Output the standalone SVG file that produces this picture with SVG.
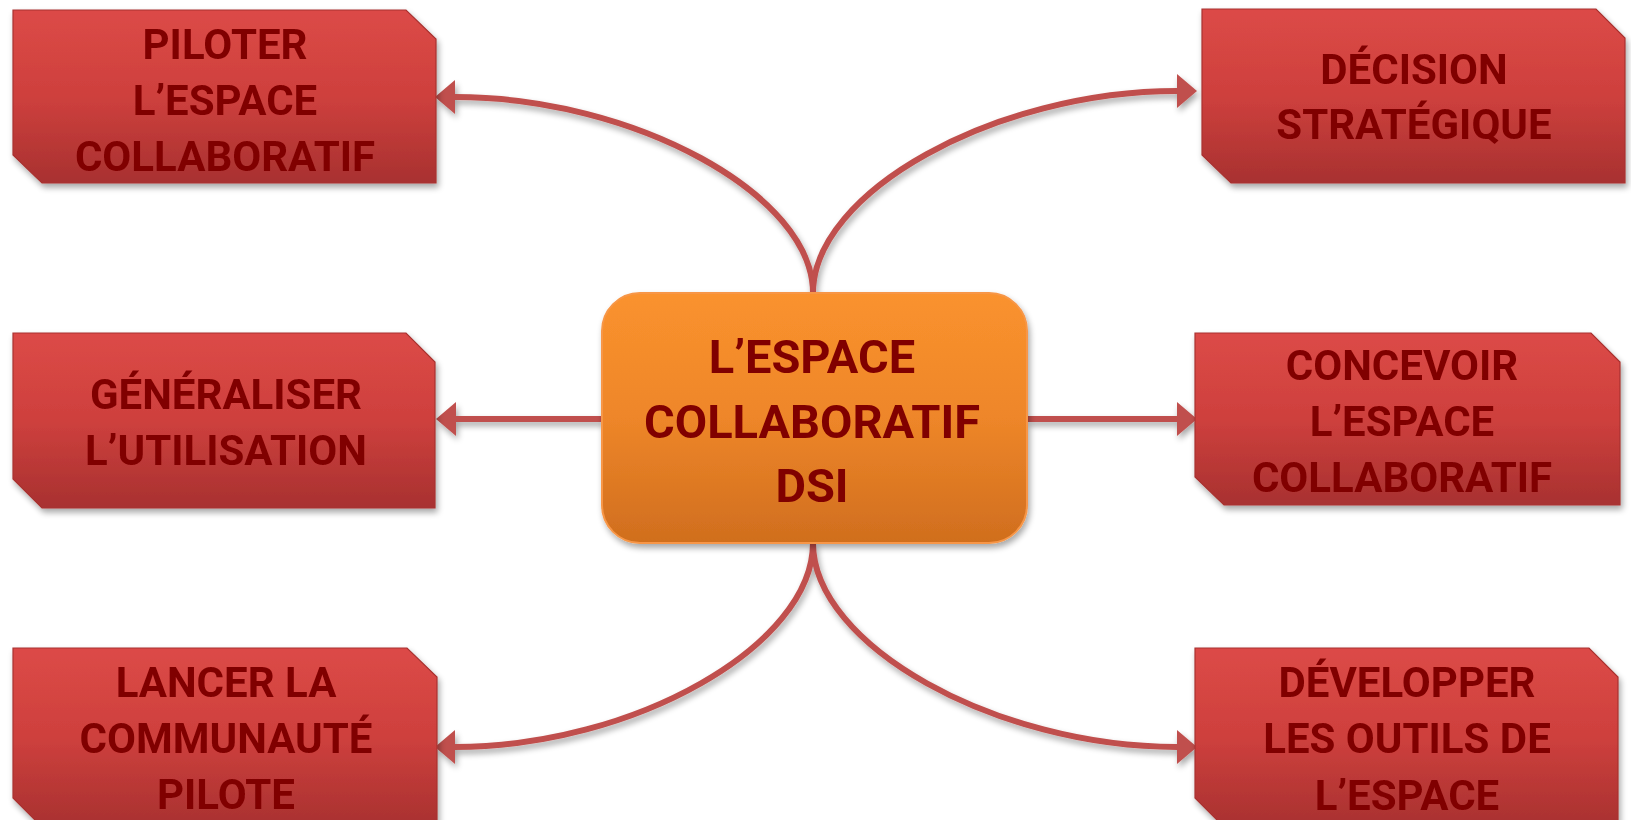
<svg xmlns="http://www.w3.org/2000/svg" width="1631" height="820" viewBox="0 0 1631 820">
<style>
.box{fill:url(#redg);stroke:#A83230;stroke-width:1.2;}
.t{font-family:Roboto,"Liberation Sans",Arial,sans-serif;font-weight:bold;fill:#800000;text-anchor:middle;font-size:42px;}
.tc{font-size:47px;}
.conn{fill:none;stroke:#C0504D;stroke-width:6;}
</style>
<defs>
<linearGradient id="redg" x1="0" y1="0" x2="0" y2="1">
<stop offset="0" stop-color="#DC4A47"/>
<stop offset="0.5" stop-color="#CE403D"/>
<stop offset="1" stop-color="#A83130"/>
</linearGradient>
<linearGradient id="orag" x1="0" y1="0" x2="0" y2="1">
<stop offset="0" stop-color="#FA922E"/>
<stop offset="0.5" stop-color="#EE8629"/>
<stop offset="1" stop-color="#D06E1E"/>
</linearGradient>
<filter id="sh" x="-10%" y="-10%" width="125%" height="140%">
<feGaussianBlur in="SourceAlpha" stdDeviation="3"/>
<feOffset dx="2" dy="4" result="o"/>
<feComponentTransfer><feFuncA type="linear" slope="0.35"/></feComponentTransfer>
<feMerge><feMergeNode/><feMergeNode in="SourceGraphic"/></feMerge>
</filter>
<marker id="arr" markerUnits="userSpaceOnUse" viewBox="0 0 20 34" markerWidth="20" markerHeight="34" refX="0" refY="17" orient="auto">
<path d="M0,0 L20,17 L0,34 z" fill="#C0504D"/>
</marker>
</defs>
<rect width="1631" height="820" fill="#FFFFFF"/>
<g id="connectors" filter="url(#sh)">
<path class="conn" d="M813,293 C813,195 634,97 455,97" marker-end="url(#arr)"/>
<path class="conn" d="M813,293 C813,192 995,91 1177,91" marker-end="url(#arr)"/>
<path class="conn" d="M602,419 L456,419" marker-end="url(#arr)"/>
<path class="conn" d="M1027,419 L1177,419" marker-end="url(#arr)"/>
<path class="conn" d="M813,543 C813,645 634,747 455,747" marker-end="url(#arr)"/>
<path class="conn" d="M813,543 C813,645 995,747 1177,747" marker-end="url(#arr)"/>
</g>
<g id="node-piloter" filter="url(#sh)">
<polygon class="box" points="13,10 406,10 436,39 436,183 42,183 13,155"/>
<text class="t" x="225" y="59">PILOTER</text>
<text class="t" x="225" y="115">L’ESPACE</text>
<text class="t" x="225" y="171">COLLABORATIF</text>
</g>
<g id="node-decision" filter="url(#sh)">
<polygon class="box" points="1202,9 1596,9 1625,38 1625,183 1231,183 1202,155"/>
<text class="t" x="1414" y="84">DÉCISION</text>
<text class="t" x="1414" y="139">STRATÉGIQUE</text>
</g>
<g id="node-generaliser" filter="url(#sh)">
<polygon class="box" points="13,333 406,333 435,362 435,508 42,508 13,479"/>
<text class="t" x="226" y="409">GÉNÉRALISER</text>
<text class="t" x="226" y="465">L’UTILISATION</text>
</g>
<g id="node-center" filter="url(#sh)">
<rect x="602" y="293" width="425" height="250" rx="38" ry="38" fill="url(#orag)" stroke="#F79646" stroke-width="2"/>
<text class="t tc" x="812" y="373">L’ESPACE</text>
<text class="t tc" x="812" y="438">COLLABORATIF</text>
<text class="t tc" x="812" y="502">DSI</text>
</g>
<g id="node-concevoir" filter="url(#sh)">
<polygon class="box" points="1195,333 1591,333 1620,362 1620,505 1224,505 1195,477"/>
<text class="t" x="1402" y="380">CONCEVOIR</text>
<text class="t" x="1402" y="436">L’ESPACE</text>
<text class="t" x="1402" y="492">COLLABORATIF</text>
</g>
<g id="node-lancer" filter="url(#sh)">
<polygon class="box" points="13,648 407,648 437,677 437,827 42,827 13,798"/>
<text class="t" x="226" y="697">LANCER LA</text>
<text class="t" x="226" y="753">COMMUNAUTÉ</text>
<text class="t" x="226" y="809">PILOTE</text>
</g>
<g id="node-developper" filter="url(#sh)">
<polygon class="box" points="1195,648 1589,648 1618,677 1618,827 1224,827 1195,798"/>
<text class="t" x="1407" y="697">DÉVELOPPER</text>
<text class="t" x="1407" y="753">LES OUTILS DE</text>
<text class="t" x="1407" y="810">L’ESPACE</text>
</g>
</svg>
